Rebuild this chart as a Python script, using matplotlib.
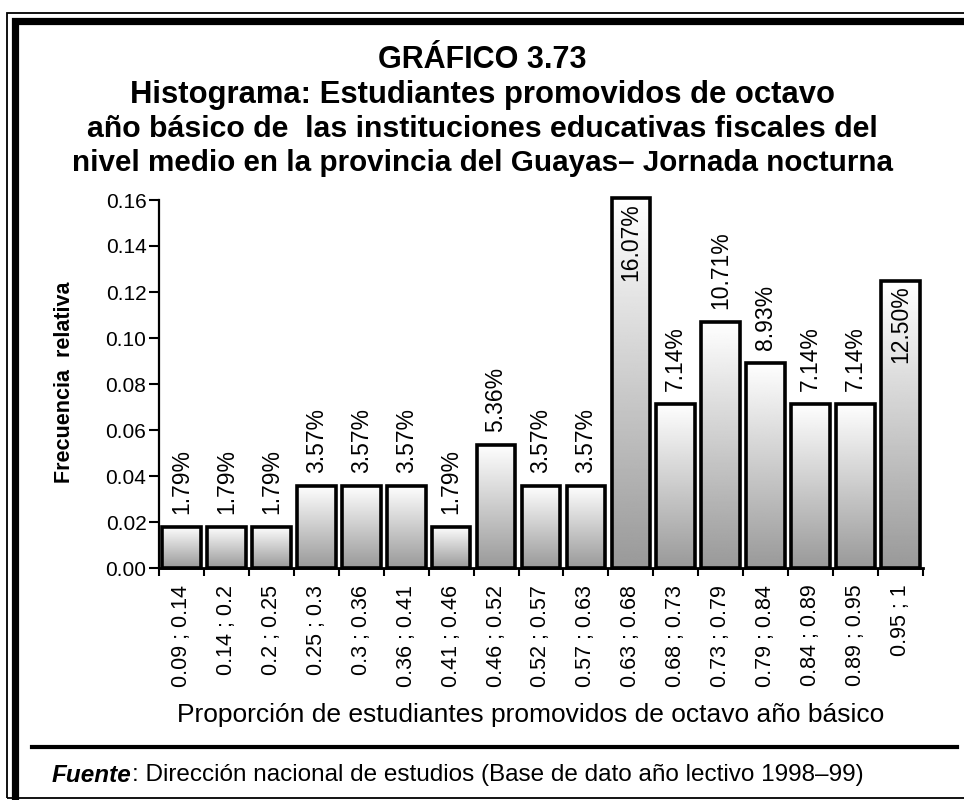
import numpy as np
import matplotlib
matplotlib.use("Agg")
import matplotlib.pyplot as plt
from matplotlib.patches import Rectangle

plt.rcParams["font.family"] = ["Liberation Sans", "DejaVu Sans"]

# data
intervals = ["0.09 ; 0.14", "0.14 ; 0.2", "0.2 ; 0.25", "0.25 ; 0.3", "0.3 ; 0.36",
             "0.36 ; 0.41", "0.41 ; 0.46", "0.46 ; 0.52", "0.52 ; 0.57", "0.57 ; 0.63",
             "0.63 ; 0.68", "0.68 ; 0.73", "0.73 ; 0.79", "0.79 ; 0.84", "0.84 ; 0.89",
             "0.89 ; 0.95", "0.95 ; 1"]
freq = [0.0179, 0.0179, 0.0179, 0.0357, 0.0357, 0.0357, 0.0179, 0.0536, 0.0357, 0.0357,
        0.1607, 0.0714, 0.1071, 0.0893, 0.0714, 0.0714, 0.1250]
inside = [10, 16]  # bars whose label sits inside the bar
yticks = [0.00, 0.02, 0.04, 0.06, 0.08, 0.10, 0.12, 0.14, 0.16]

title_lines = ["GRÁFICO 3.73",
               "Histograma: Estudiantes promovidos de octavo",
               "año básico de  las instituciones educativas fiscales del",
               "nivel medio en la provincia del Guayas– Jornada nocturna"]

W, H = 964, 800
fig = plt.figure(figsize=(W / 100, H / 100), dpi=100)

# frame (pixel coords converted to figure fraction)
def px_rect(x0, y0, x1, y1, **kw):
    r = Rectangle((x0 / W, 1 - y1 / H), (x1 - x0) / W, (y1 - y0) / H,
                  transform=fig.transFigure, figure=fig, **kw)
    fig.patches.append(r)

px_rect(7, 13, 990, 798, fill=False, edgecolor="black", linewidth=1.3)
px_rect(15.5, 20.5, 990, 830, fill=False, edgecolor="black", linewidth=5.2)

# horizontal rule above the source line
fig.add_artist(plt.Line2D([32 / W, 957 / W], [1 - 747 / H, 1 - 747 / H],
                          transform=fig.transFigure, color="black", linewidth=3))

# titles
title_y = [60, 95, 129, 163]
title_fs = [22, 22.3, 21.8, 21.3]
for line, yy, fs in zip(title_lines, title_y, title_fs):
    fig.text(482 / W, 1 - yy / H, line, ha="center", va="center",
             fontsize=fs, fontweight="bold")

ax = fig.add_axes([159 / W, 1 - 568 / H, (923 - 159) / W, (568 - 200) / H])
x = np.arange(len(freq))

# gradient fill: white at top to grey at bottom
grad = np.linspace(0.6, 1.0, 256).reshape(-1, 1)
bars = ax.bar(x, freq, width=0.86, facecolor="none", edgecolor="black",
              linewidth=2.6, zorder=3, clip_on=False)
for b in bars:
    x0, w, h = b.get_x(), b.get_width(), b.get_height()
    im = ax.imshow(grad, cmap="gray", vmin=0, vmax=1, origin="lower",
                   extent=(x0, x0 + w, 0, h), aspect="auto", zorder=2,
                   interpolation="bilinear")
    im.set_clip_path(b)

for i, (xi, v) in enumerate(zip(x, freq)):
    lab = f"{v * 100:.2f}%"
    if i in inside:
        ax.text(xi, v - 0.0022, lab, rotation=90, ha="center", va="top",
                fontsize=16.5, zorder=4)
    else:
        ax.text(xi, v + 0.0056, lab, rotation=90, ha="center", va="bottom",
                fontsize=16.5, zorder=4)

ax.set_xlim(-0.5, len(freq) - 0.5)
ax.set_ylim(0, 0.16)
ax.set_yticks(yticks)
ax.set_yticklabels([f"{t:.2f}" for t in yticks], fontsize=15)
ax.set_xticks(x)
ax.set_xticklabels(intervals, rotation=90, fontsize=15.5, va="top")
ax.set_xticks(np.arange(len(freq) + 1) - 0.5, minor=True)
ax.tick_params(axis="x", which="major", length=0, pad=12)
ax.tick_params(axis="x", which="minor", length=6, width=1.5, direction="out")
ax.tick_params(axis="y", length=7, width=1.5, direction="out", pad=2)

for s in ["top", "right"]:
    ax.spines[s].set_visible(False)
ax.spines["left"].set_linewidth(1.6)
ax.spines["bottom"].set_linewidth(2.0)

fig.text(64 / W, 1 - 382 / H, "Frecuencia  relativa", rotation=90,
         ha="center", va="center", fontsize=15.5, fontweight="bold")
fig.text(531 / W, 1 - 715 / H,
         "Proporción de estudiantes promovidos de octavo año básico",
         ha="center", va="center", fontsize=19)

# source line
t = fig.text(52 / W, 1 - 775 / H, "Fuente", ha="left", va="center",
             fontsize=17.5, fontweight="bold", fontstyle="italic")
fig.canvas.draw()
bb = t.get_window_extent()
fig.text(bb.x1 / W, 1 - 775 / H,
         ": Dirección nacional de estudios (Base de dato año lectivo 1998–99)",
         ha="left", va="center", fontsize=17.5)

fig.savefig("out.png", dpi=100)
